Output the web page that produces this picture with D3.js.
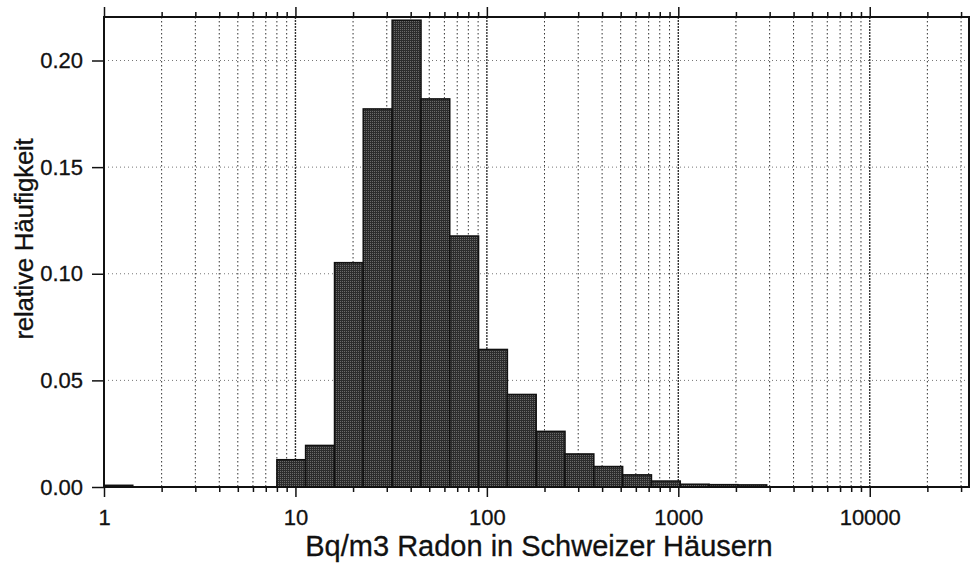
<!DOCTYPE html>
<html>
<head>
<meta charset="utf-8">
<script src="https://cdn.jsdelivr.net/npm/d3@7"></script>
<style>
  body { margin: 0; background: #fff; }
  svg { display: block; font-family: "Liberation Sans", Arial, sans-serif; }
</style>
</head>
<body>
<div id="chart"></div>
<script>
// Radon histogram (log x axis)

// bin edges in Bq/m3 (sqrt(2) steps)
const binLow  = [1, 8, 11.3, 16, 22.6, 32, 45.3, 64, 90.5, 128, 181, 256, 362, 512, 724, 1024, 1448, 2048];
const binHigh = [1.414, 11.3, 16, 22.6, 32, 45.3, 64, 90.5, 128, 181, 256, 362, 512, 724, 1024, 1448, 2048, 2896];
const freq    = [0.0008, 0.0128, 0.0195, 0.1052, 0.1773, 0.2189, 0.1820, 0.1177, 0.0645, 0.0434, 0.0261, 0.0155, 0.0096, 0.0057, 0.0028, 0.0013, 0.0011, 0.0010];

const xMajor = [1, 10, 100, 1000, 10000];
const yTicks = [0, 0.05, 0.10, 0.15, 0.20];

const margin = { top: 17, right: 3, bottom: 76, left: 104 };
const width = 972 - margin.left - margin.right;
const height = 563 - margin.top - margin.bottom;

const svg = d3.select('#chart')
    .append('svg')
    .attr('width', 972)
    .attr('height', 563);

// halftone look for the bars
const pat = svg.append('defs').append('pattern')
    .attr('id', 'dots')
    .attr('width', 2).attr('height', 2)
    .attr('patternUnits', 'userSpaceOnUse');
pat.append('rect').attr('width', 2).attr('height', 2).attr('fill', '#2c2c2c');
pat.append('rect').attr('width', 1).attr('height', 1).attr('fill', '#6a6a6a');

const g = svg.append('g')
    .attr('transform', `translate(${margin.left}, ${margin.top})`);

const x = d3.scaleLog().domain([1, 33000]).range([0, width]);
const y = d3.scaleLinear().domain([0, 0.2204]).range([height, 0]);

// minor ticks 2..9 per decade
const xMinor = [];
xMajor.forEach(d => {
    for (let m = 2; m <= 9; m++) {
        if (m * d <= 33000) xMinor.push(m * d);
    }
});

// grid
g.append('g')
    .selectAll('line')
    .data(yTicks.slice(1))
    .enter()
    .append('line')
    .attr('x1', 0).attr('x2', width)
    .attr('y1', d => y(d)).attr('y2', d => y(d))
    .attr('stroke', '#777')
    .attr('stroke-width', 1)
    .attr('stroke-dasharray', '1,3');

g.append('g')
    .selectAll('line')
    .data(xMinor.concat(xMajor.slice(1)))
    .enter()
    .append('line')
    .attr('x1', d => x(d)).attr('x2', d => x(d))
    .attr('y1', 0).attr('y2', height)
    .attr('stroke', '#333')
    .attr('stroke-width', d => xMajor.includes(d) ? 1.4 : 1)
    .attr('stroke-dasharray', d => xMajor.includes(d) ? '2,1' : '1.5,2.5');

// bars
g.selectAll('.bar')
    .data(freq)
    .enter()
    .append('rect')
    .attr('class', 'bar')
    .attr('x', (d, i) => x(binLow[i]))
    .attr('y', d => y(d))
    .attr('width', (d, i) => x(binHigh[i]) - x(binLow[i]))
    .attr('height', d => height - y(d))
    .attr('fill', 'url(#dots)')
    .attr('stroke', '#111')
    .attr('stroke-width', 1.5);

// axes
const axisStyle = sel => {
    sel.select('.domain').remove();
    sel.selectAll('line').attr('stroke', '#111').attr('stroke-width', 1.5);
};

g.append('g')
    .attr('transform', `translate(0, ${height})`)
    .call(d3.axisBottom(x).tickValues(xMinor).tickSize(5).tickFormat(''))
    .call(axisStyle);

g.append('g')
    .attr('transform', `translate(0, ${height})`)
    .call(d3.axisBottom(x).tickValues(xMajor).tickSize(10).tickPadding(12).tickFormat(d3.format('d')))
    .call(axisStyle)
    .selectAll('text')
    .attr('font-size', 22)
    .attr('fill', '#111')
    .attr('stroke', '#111')
    .attr('stroke-width', 0.3);

g.append('g')
    .call(d3.axisTop(x).tickValues(xMinor).tickSize(5).tickFormat(''))
    .call(axisStyle);

g.append('g')
    .call(d3.axisTop(x).tickValues(xMajor).tickSize(10).tickFormat(''))
    .call(axisStyle);

g.append('g')
    .call(d3.axisLeft(y).tickValues(yTicks).tickSize(12).tickPadding(9).tickFormat(d3.format('.2f')))
    .call(axisStyle)
    .selectAll('text')
    .attr('font-size', 22)
    .attr('fill', '#111')
    .attr('stroke', '#111')
    .attr('stroke-width', 0.3);

// frame
g.append('rect')
    .attr('width', width)
    .attr('height', height)
    .attr('fill', 'none')
    .attr('stroke', '#111')
    .attr('stroke-width', 2);

// titles
svg.append('text')
    .attr('x', 539)
    .attr('y', 556)
    .attr('text-anchor', 'middle')
    .attr('font-size', 29)
    .attr('fill', '#111')
    .attr('stroke', '#111')
    .attr('stroke-width', 0.3)
    .text('Bq/m3 Radon in Schweizer Häusern');

svg.append('text')
    .attr('transform', 'translate(33, 239) rotate(-90)')
    .attr('text-anchor', 'middle')
    .attr('font-size', 26)
    .attr('letter-spacing', -0.3)
    .attr('fill', '#111')
    .attr('stroke', '#111')
    .attr('stroke-width', 0.3)
    .text('relative Häufigkeit');
</script>
</body>
</html>
